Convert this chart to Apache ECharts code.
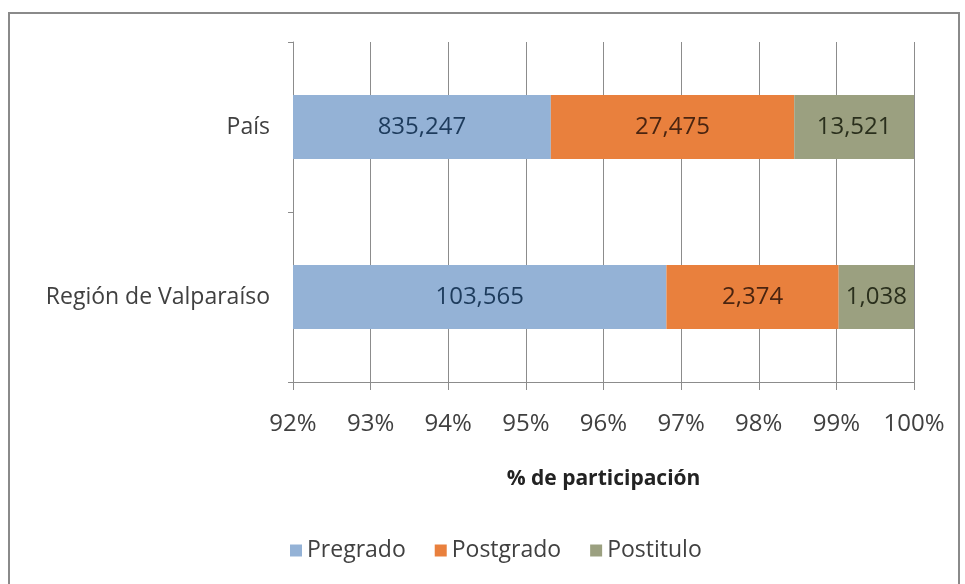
<!DOCTYPE html>
<html>
<head>
<meta charset="utf-8">
<script src="https://cdn.jsdelivr.net/npm/echarts@6/dist/echarts.min.js"></script>
<style>
  html, body { margin: 0; padding: 0; background: #fff; }
  #chart { width: 965px; height: 584px; }
</style>
</head>
<body>
<div id="chart"></div>
<script>
// categorias y datos (numero de matriculados)
const categories = ['País', 'Región de Valparaíso'];
const seriesNames = ['Pregrado', 'Postgrado', 'Postitulo'];
const pregrado = [835247, 103565];
const postgrado = [27475, 2374];
const postitulo = [13521, 1038];
const colors = ['#94b2d6', '#e9803d', '#9ba080'];
const labelColors = ['#1d3b5c', '#4a2410', '#2a2f1c'];

const counts = [pregrado, postgrado, postitulo];
const totals = categories.map((c, i) => pregrado[i] + postgrado[i] + postitulo[i]);

let myChart = echarts.init(document.getElementById('chart'));
const fontFamily = 'Open Sans';

let option = {
    backgroundColor: '#fff',
    animation: false,
    textStyle: { fontFamily: fontFamily },
    graphic: [{
        type: 'rect',
        shape: { x: 9, y: 13, width: 950, height: 600 },
        style: { fill: 'none', stroke: '#8a8a8a', lineWidth: 2 }
    }],
    grid: {
        left: 293,
        right: 51,
        top: 42,
        bottom: 202
    },
    legend: {
        data: seriesNames,
        top: 534,
        left: 285,
        icon: 'rect',
        itemWidth: 12,
        itemHeight: 12,
        itemGap: 29,
        textStyle: { fontSize: 23, color: '#404040', fontFamily: fontFamily }
    },
    xAxis: {
        type: 'value',
        min: 92,
        max: 100,
        interval: 1,
        name: '% de participación',
        nameLocation: 'middle',
        nameGap: 87,
        nameTextStyle: { fontSize: 21, fontWeight: 'bold', color: '#222', fontFamily: fontFamily },
        axisLine: { show: true, lineStyle: { color: '#8c8c8c', width: 1 } },
        axisTick: { show: true, length: 8, lineStyle: { color: '#8c8c8c' } },
        axisLabel: {
            formatter: '{value}%',
            fontSize: 24,
            color: '#404040',
            margin: 30,
            fontFamily: fontFamily
        },
        splitLine: { show: true, lineStyle: { color: '#8c8c8c', width: 1 } }
    },
    yAxis: {
        type: 'category',
        inverse: true,
        data: categories,
        axisLine: { show: true, lineStyle: { color: '#8c8c8c' } },
        axisTick: { show: true, length: 5, lineStyle: { color: '#8c8c8c' } },
        axisLabel: { fontSize: 23, color: '#404040', margin: 23, fontFamily: fontFamily }
    },
    series: seriesNames.map((name, s) => ({
        name: name,
        type: 'bar',
        stack: 'total',
        barWidth: 64,
        itemStyle: { color: colors[s] },
        label: {
            show: true,
            position: 'inside',
            fontSize: 24,
            color: labelColors[s],
            fontFamily: fontFamily,
            formatter: (p) => counts[s][p.dataIndex].toLocaleString('en-US')
        },
        data: counts[s].map((v, i) => v / totals[i] * 100)
    }))
};

myChart.setOption(option);
</script>
</body>
</html>
